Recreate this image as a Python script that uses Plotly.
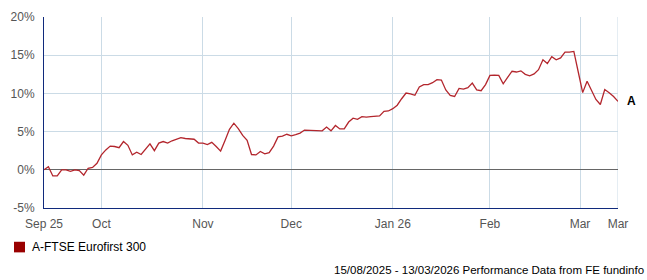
import plotly.graph_objects as go

# Trading-day index (0 = start of chart) and cumulative performance (%)
day_index = list(range(131))
performance = [
    0.0, 0.4, -0.8, -0.8, 0.0, 0.0, -0.2, 0.0, -0.1, -0.7,
    0.2, 0.3, 0.85, 1.95, 2.6, 3.1, 3.05, 2.9, 3.7, 3.2,
    1.95, 2.3, 2.0, 2.7, 3.4, 2.5, 3.5, 3.7, 3.5, 3.8,
    4.0, 4.2, 4.1, 4.05, 4.0, 3.5, 3.5, 3.3, 3.6, 3.05,
    2.45, 3.85, 5.3, 6.1, 5.4, 4.5, 3.85, 2.0, 1.95, 2.4,
    2.1, 2.25, 3.1, 4.3, 4.4, 4.65, 4.45, 4.6, 4.8, 5.2,
    5.15, 5.15, 5.1, 5.1, 5.6, 5.1, 5.8, 5.35, 5.35, 6.25,
    6.75, 6.6, 6.95, 6.9, 6.95, 7.0, 7.05, 7.65, 7.7, 8.0,
    8.45, 9.3, 10.05, 9.95, 9.75, 10.85, 11.15, 11.15, 11.4, 11.8,
    11.75, 10.45, 9.75, 9.6, 10.65, 10.55, 10.75, 11.35, 10.45, 10.35,
    11.15, 12.35, 12.4, 12.35, 11.25, 12.1, 12.9, 12.8, 12.95, 12.5,
    12.3, 12.55, 13.1, 14.4, 13.9, 14.8, 14.4, 14.65, 15.4, 15.4,
    15.5, 12.8, 10.1, 11.6, 10.3, 9.2, 8.55, 10.5, 10.1, 9.6,
    8.95,
]

series_name = "A-FTSE Eurofirst 300"
series_tag = "A"

x_tick_positions = [0, 13, 36, 56, 79, 101, 121.4, 130]
x_tick_labels = ["Sep 25", "Oct", "Nov", "Dec", "Jan 26", "Feb", "Mar", "Mar"]
y_tick_values = [-5, 0, 5, 10, 15, 20]
y_tick_labels = ["-5%", "0%", "5%", "10%", "15%", "20%"]

footer_text = "15/08/2025 - 13/03/2026 Performance Data from FE fundinfo"

LINE_COLOR = "#b3262d"
LEGEND_COLOR = "#990000"
GRID_COLOR = "#cbdbe6"
AXIS_COLOR = "#102a7c"
TICK_FONT = dict(family="Arial, Liberation Sans, sans-serif", size=12, color="#555555")

fig = go.Figure()
fig.add_trace(go.Scatter(
    x=day_index, y=performance, mode="lines",
    line=dict(color=LINE_COLOR, width=1.3),
    showlegend=False, hoverinfo="skip",
))

W, H = 647, 280
ml, mr, mt, mb = 44, 29, 10, 72

fig.update_layout(
    width=W, height=H,
    margin=dict(l=ml, r=mr, t=mt, b=mb, pad=0),
    paper_bgcolor="white", plot_bgcolor="white",
    font=TICK_FONT,
    xaxis=dict(
        range=[0, 130], tickmode="array",
        tickvals=x_tick_positions, ticktext=x_tick_labels,
        showgrid=True, gridcolor=GRID_COLOR, gridwidth=1,
        showline=True, linecolor=AXIS_COLOR, linewidth=1,
        ticks="outside", ticklen=5, tickcolor="rgba(0,0,0,0)",
        tickfont=TICK_FONT, zeroline=False, fixedrange=True,
    ),
    yaxis=dict(
        range=[-5, 20], tickmode="array",
        tickvals=y_tick_values, ticktext=y_tick_labels,
        showgrid=True, gridcolor=GRID_COLOR, gridwidth=1,
        showline=True, linecolor=AXIS_COLOR, linewidth=1,
        ticks="outside", ticklen=6, tickcolor="rgba(0,0,0,0)",
        tickfont=TICK_FONT,
        zeroline=True, zerolinecolor="#666666", zerolinewidth=1,
        fixedrange=True,
    ),
    showlegend=False,
)

# right border grid line
fig.add_shape(type="line", xref="x", yref="paper", x0=130, x1=130, y0=0, y1=1,
              line=dict(color=GRID_COLOR, width=1), layer="below")

# series end tag
fig.add_annotation(
    x=day_index[-1], y=performance[-1], xref="x", yref="y",
    text="<b>" + series_tag + "</b>", showarrow=False,
    xshift=13, yshift=0,
    font=dict(family="Arial, Liberation Sans, sans-serif", size=12, color="black"),
)

# legend (square + label)
pw = W - ml - mr
ph = H - mt - mb
def px_x(p):
    return (p - ml) / pw
def px_y(p):
    return 1 - (p - mt) / ph

fig.add_shape(type="rect", xref="paper", yref="paper",
              x0=px_x(14), x1=px_x(25), y0=px_y(254), y1=px_y(243),
              fillcolor=LEGEND_COLOR, line=dict(width=0))
fig.add_annotation(
    xref="paper", yref="paper", x=px_x(30), y=px_y(248.5),
    xanchor="left", yanchor="middle", showarrow=False,
    text=series_name,
    font=dict(family="Arial, Liberation Sans, sans-serif", size=12, color="black"),
)

# footer
fig.add_annotation(
    xref="paper", yref="paper", x=px_x(646), y=px_y(272),
    xanchor="right", yanchor="middle", showarrow=False,
    text=footer_text,
    font=dict(family="Arial, Liberation Sans, sans-serif", size=11.5, color="black"),
)

fig.write_html("out.html", config={"displayModeBar": False})
